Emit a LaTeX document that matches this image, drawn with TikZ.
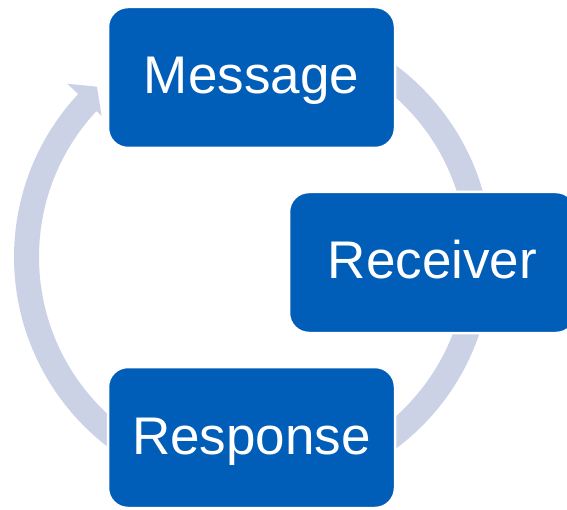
\documentclass[tikz,border=0pt]{standalone}
\usepackage{fontspec}
\setmainfont{Liberation Sans}
\definecolor{boxblue}{RGB}{0,94,184}
\definecolor{ringgray}{RGB}{204,210,230}
\begin{document}
\begin{tikzpicture}[x=1pt,y=1pt,
  stagebox/.style={rectangle, fill=boxblue, draw=white, line width=2.5pt,
    rounded corners=20pt, minimum width=287pt, minimum height=141pt,
    inner sep=0pt, text=white, font=\fontsize{53}{60}\selectfont,
    text height=38pt, text depth=5pt}]
\useasboundingbox (0,0) rectangle (567,509);
% cycle ring with arrowhead
\begin{scope}[shift={(253,252)}]
\fill[ringgray] (125:239) arc[start angle=125, end angle=-223, radius=239]
  -- (-223:254) -- (-227.5:231) -- (-223:207) -- (-223:214)
  arc[start angle=-223, end angle=125, radius=214] -- cycle;
\end{scope}
% stages
\node[stagebox] (message) at (251.5,431.5) {Message};
\node[stagebox] (receiver) at (432.5,246.5) {Receiver};
\node[stagebox] (response) at (251.5,71.5) {Response};
\end{tikzpicture}
\end{document}
